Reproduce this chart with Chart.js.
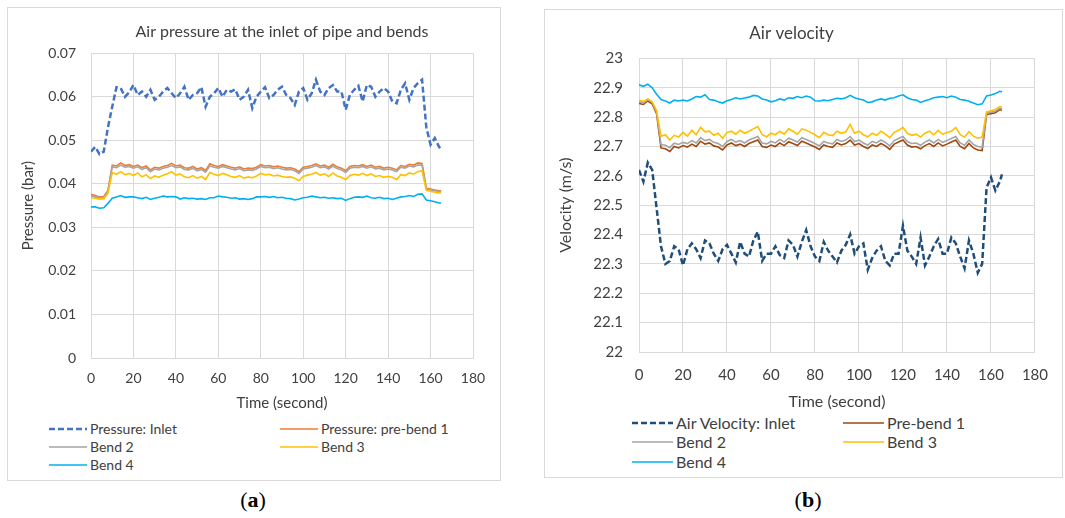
<!DOCTYPE html>
<html>
<head>
<meta charset="utf-8">
<script src="https://cdn.jsdelivr.net/npm/chart.js@4.4.0/dist/chart.umd.min.js"></script>
<style>
body { margin: 0; width: 1065px; height: 518px; background: #fff; position: relative; overflow: hidden; font-family: Lato, sans-serif; color: #404040; }
.panel { position: absolute; border: 1px solid #d9d9d9; box-sizing: border-box; }
.box { position: absolute; }
.leg { position: absolute; white-space: nowrap; }
.swatch { position: absolute; }
.cap { position: absolute; width: 100px; text-align: center; font-family: "Liberation Serif", serif; font-size: 22px; line-height: 24px; top: 488px; color: #000; }
</style>
</head>
<body>
<div class="panel" style="left:7px;top:7px;width:494px;height:474px"></div>
<div class="panel" style="left:544px;top:9px;width:519px;height:469px"></div>
<div class="box" style="left:7px;top:7px;width:493px;height:405px"><canvas id="ChartP"></canvas></div>
<div class="box" style="left:544px;top:9px;width:518px;height:402px"><canvas id="ChartV"></canvas></div>
<div id="legend"></div>
<div class="cap" style="left:203px">(<b>a</b>)</div>
<div class="cap" style="left:758px">(<b>b</b>)</div>
<script>
// ---------------- data ------------------------
const times = [
  0, 2, 4, 6, 8, 10, 12, 14, 16, 18,
  20, 22, 24, 26, 28, 30, 32, 34, 36, 38,
  40, 42, 44, 46, 48, 50, 52, 54, 56, 58,
  60, 62, 64, 66, 68, 70, 72, 74, 76, 78,
  80, 82, 84, 86, 88, 90, 92, 94, 96, 98,
  100, 102, 104, 106, 108, 110, 112, 114, 116, 118,
  120, 122, 124, 126, 128, 130, 132, 134, 136, 138,
  140, 142, 144, 146, 148, 150, 152, 154, 156, 158,
  160, 162, 164, 165
];

// pressure (bar)
const pInlet = [
  .0474, .0485, .0468, .0474, .0530, .0577, .0622, .0620, .0600, .0610,
  .0627, .0604, .0612, .0600, .0616, .0593, .0600, .0612, .0620, .0608,
  .0597, .0608, .0623, .0593, .0604, .0608, .0622, .0577, .0600, .0608,
  .0620, .0600, .0616, .0612, .0617, .0593, .0600, .0616, .0574, .0600,
  .0612, .0622, .0597, .0604, .0616, .0623, .0604, .0597, .0581, .0612,
  .0620, .0593, .0608, .0639, .0612, .0604, .0620, .0627, .0612, .0612,
  .0570, .0604, .0616, .0625, .0589, .0627, .0623, .0600, .0612, .0620,
  .0612, .0589, .0585, .0616, .0631, .0593, .0620, .0631, .0639, .0530,
  .0490, .0505, .0485, .0478
];
const pPreBend1 = [
  .0376, .0373, .0370, .0371, .0385, .0443, .0441, .0448, .0442, .0444,
  .0440, .0443, .0437, .0441, .0432, .0438, .0436, .0440, .0442, .0447,
  .0441, .0443, .0437, .0436, .0440, .0434, .0437, .0431, .0446, .0442,
  .0440, .0444, .0441, .0438, .0436, .0439, .0434, .0436, .0435, .0438,
  .0444, .0441, .0442, .0439, .0441, .0438, .0436, .0437, .0434, .0428,
  .0438, .0440, .0442, .0446, .0441, .0443, .0438, .0445, .0439, .0436,
  .0430, .0440, .0442, .0441, .0444, .0440, .0443, .0438, .0440, .0436,
  .0438, .0436, .0432, .0442, .0440, .0445, .0443, .0448, .0447, .0390,
  .0388, .0386, .0384, .0384
];
const pBend2 = [
  .0373, .0370, .0368, .0369, .0383, .0439, .0437, .0443, .0438, .0440,
  .0436, .0439, .0433, .0437, .0428, .0434, .0432, .0436, .0438, .0442,
  .0437, .0439, .0433, .0432, .0436, .0430, .0433, .0427, .0441, .0438,
  .0436, .0440, .0437, .0434, .0432, .0435, .0430, .0432, .0431, .0434,
  .0440, .0437, .0438, .0435, .0437, .0434, .0432, .0433, .0430, .0424,
  .0434, .0436, .0438, .0442, .0437, .0439, .0434, .0441, .0435, .0432,
  .0426, .0436, .0438, .0437, .0440, .0436, .0439, .0434, .0436, .0432,
  .0434, .0432, .0428, .0438, .0436, .0441, .0439, .0443, .0443, .0388,
  .0386, .0384, .0382, .0382
];
const pBend3 = [
  .0368, .0367, .0365, .0366, .0378, .0426, .0422, .0428, .0421, .0424,
  .0419, .0425, .0416, .0421, .0412, .0418, .0415, .0420, .0423, .0428,
  .0420, .0423, .0416, .0414, .0419, .0413, .0417, .0410, .0426, .0422,
  .0419, .0424, .0421, .0417, .0415, .0419, .0413, .0416, .0414, .0418,
  .0424, .0421, .0422, .0418, .0420, .0417, .0415, .0416, .0413, .0407,
  .0417, .0420, .0422, .0426, .0420, .0423, .0417, .0425, .0418, .0415,
  .0410, .0419, .0422, .0420, .0424, .0419, .0423, .0417, .0419, .0415,
  .0417, .0415, .0410, .0421, .0419, .0425, .0422, .0428, .0430, .0385,
  .0383, .0381, .0379, .0379
];
const pBend4 = [
  .0347, .0347, .0344, .0345, .0355, .0367, .0370, .0373, .0369, .0370,
  .0370, .0368, .0366, .0369, .0364, .0367, .0369, .0372, .0370, .0371,
  .0370, .0365, .0368, .0366, .0367, .0365, .0366, .0364, .0368, .0368,
  .0372, .0370, .0369, .0367, .0368, .0365, .0366, .0364, .0366, .0370,
  .0370, .0371, .0369, .0371, .0368, .0369, .0367, .0366, .0363, .0365,
  .0368, .0369, .0372, .0370, .0368, .0369, .0367, .0368, .0366, .0367,
  .0362, .0366, .0369, .0370, .0369, .0372, .0368, .0367, .0369, .0366,
  .0367, .0364, .0367, .0370, .0371, .0373, .0371, .0376, .0377, .0363,
  .0361, .0359, .0356, .0356
];

// velocity (m/s)
const vInlet = [
  22.620, 22.580, 22.645, 22.620, 22.490, 22.360, 22.300, 22.310, 22.360, 22.350,
  22.295, 22.350, 22.370, 22.350, 22.320, 22.380, 22.370, 22.335, 22.310, 22.350,
  22.365, 22.335, 22.305, 22.375, 22.335, 22.325, 22.380, 22.410, 22.310, 22.335,
  22.335, 22.360, 22.330, 22.320, 22.380, 22.365, 22.325, 22.375, 22.415, 22.360,
  22.325, 22.310, 22.375, 22.345, 22.325, 22.305, 22.345, 22.365, 22.400, 22.335,
  22.360, 22.370, 22.280, 22.320, 22.345, 22.360, 22.310, 22.295, 22.335, 22.335,
  22.430, 22.345, 22.325, 22.300, 22.390, 22.295, 22.325, 22.360, 22.385, 22.335,
  22.335, 22.390, 22.370, 22.325, 22.285, 22.380, 22.335, 22.270, 22.300, 22.560,
  22.595, 22.550, 22.580, 22.605
];
const vPreBend1 = [
  22.847, 22.843, 22.855, 22.845, 22.812, 22.695, 22.692, 22.683, 22.700, 22.695,
  22.703, 22.698, 22.708, 22.700, 22.718, 22.708, 22.712, 22.702, 22.698, 22.688,
  22.705, 22.712, 22.703, 22.708, 22.700, 22.710, 22.716, 22.722, 22.700, 22.697,
  22.705, 22.700, 22.712, 22.703, 22.716, 22.710, 22.703, 22.718, 22.712, 22.705,
  22.698, 22.690, 22.705, 22.700, 22.697, 22.712, 22.705, 22.710, 22.722, 22.705,
  22.710, 22.700, 22.693, 22.705, 22.700, 22.710, 22.702, 22.690, 22.708, 22.715,
  22.722, 22.705, 22.698, 22.700, 22.692, 22.703, 22.710, 22.700, 22.712, 22.702,
  22.708, 22.715, 22.722, 22.700, 22.692, 22.710, 22.695, 22.688, 22.686, 22.808,
  22.812, 22.815, 22.826, 22.823
];
const vBend2 = [
  22.852, 22.848, 22.860, 22.850, 22.818, 22.707, 22.704, 22.696, 22.711, 22.707,
  22.714, 22.710, 22.720, 22.712, 22.730, 22.720, 22.724, 22.714, 22.710, 22.700,
  22.717, 22.724, 22.715, 22.720, 22.712, 22.722, 22.728, 22.734, 22.712, 22.709,
  22.717, 22.712, 22.724, 22.715, 22.728, 22.722, 22.715, 22.730, 22.724, 22.717,
  22.710, 22.702, 22.717, 22.712, 22.709, 22.724, 22.717, 22.722, 22.734, 22.717,
  22.722, 22.712, 22.705, 22.717, 22.712, 22.722, 22.714, 22.702, 22.720, 22.727,
  22.734, 22.717, 22.710, 22.712, 22.704, 22.715, 22.722, 22.712, 22.724, 22.714,
  22.720, 22.727, 22.734, 22.712, 22.704, 22.722, 22.707, 22.700, 22.698, 22.814,
  22.817, 22.820, 22.830, 22.828
];
const vBend3 = [
  22.858, 22.853, 22.862, 22.852, 22.822, 22.735, 22.740, 22.722, 22.738, 22.732,
  22.748, 22.735, 22.755, 22.740, 22.765, 22.750, 22.752, 22.738, 22.745, 22.728,
  22.748, 22.752, 22.742, 22.755, 22.745, 22.752, 22.760, 22.768, 22.740, 22.733,
  22.745, 22.740, 22.752, 22.742, 22.760, 22.752, 22.742, 22.760, 22.755, 22.748,
  22.740, 22.730, 22.748, 22.740, 22.737, 22.752, 22.745, 22.750, 22.775, 22.745,
  22.752, 22.740, 22.733, 22.745, 22.738, 22.752, 22.742, 22.730, 22.748, 22.755,
  22.765, 22.745, 22.738, 22.742, 22.732, 22.745, 22.752, 22.740, 22.755, 22.742,
  22.748, 22.752, 22.765, 22.740, 22.732, 22.750, 22.735, 22.728, 22.732, 22.818,
  22.822, 22.826, 22.836, 22.834
];
const vBend4 = [
  22.910, 22.905, 22.912, 22.900, 22.878, 22.860, 22.855, 22.848, 22.858, 22.855,
  22.858, 22.855, 22.862, 22.870, 22.868, 22.876, 22.860, 22.858, 22.852, 22.848,
  22.856, 22.860, 22.866, 22.862, 22.865, 22.868, 22.874, 22.872, 22.862, 22.858,
  22.852, 22.856, 22.862, 22.858, 22.866, 22.864, 22.870, 22.866, 22.872, 22.868,
  22.856, 22.855, 22.858, 22.856, 22.860, 22.864, 22.862, 22.866, 22.874, 22.866,
  22.862, 22.858, 22.850, 22.852, 22.858, 22.862, 22.858, 22.864, 22.866, 22.872,
  22.876, 22.866, 22.860, 22.858, 22.850, 22.856, 22.860, 22.866, 22.868, 22.870,
  22.866, 22.872, 22.868, 22.860, 22.858, 22.854, 22.848, 22.842, 22.845, 22.872,
  22.875, 22.880, 22.888, 22.886
];

const pNames = ['Pressure: Inlet', 'Pressure: pre-bend 1', 'Bend 2', 'Bend 3', 'Bend 4'];
const vNames = ['Air Velocity: Inlet', 'Pre-bend 1', 'Bend 2', 'Bend 3', 'Bend 4'];
const pColors = ['#4472C4', '#ED7D31', '#A5A5A5', '#FFC000', '#00B0F0'];
const vColors = ['#1F4E79', '#9E480E', '#A5A5A5', '#FFC000', '#00B0F0'];

const pValues = [pInlet, pPreBend1, pBend2, pBend3, pBend4];
const vValues = [vInlet, vPreBend1, vBend2, vBend3, vBend4];

const textColor = '#404040';
const gridColor = '#d9d9d9';
const inletDash = [6, 3];

// ---------------- helpers ------------------------
function makeDatasets(names, colors, values) {
    return names.map((name, i) => ({
        label: name,
        data: values[i].map((v, k) => ({ x: times[k], y: v })),
        borderColor: colors[i],
        backgroundColor: colors[i],
        borderWidth: i === 0 ? 2.5 : 1.6,
        borderDash: i === 0 ? inletDash : [],
        pointRadius: 0,
        tension: 0,
        order: 5 - i
    }));
}

function makeOptions(o) {
    return {
        responsive: true,
        maintainAspectRatio: false,
        animation: false,
        layout: { padding: { left: 0, right: o.padRight, top: 0, bottom: 0 } },
        scales: {
            x: {
                type: 'linear',
                min: 0,
                max: 180,
                ticks: { stepSize: 20, color: textColor, font: { family: 'Lato', size: o.tickSize }, padding: o.xPad },
                grid: { color: gridColor, drawTicks: false },
                border: { color: gridColor },
                title: { display: true, text: 'Time (second)', color: textColor, font: { family: 'Lato', size: o.axisSize }, padding: 0 },
                afterFit: s => { s.height = o.xHeight; }
            },
            y: {
                min: o.yMin,
                max: o.yMax,
                ticks: {
                    stepSize: o.yStep,
                    color: textColor,
                    font: { family: 'Lato', size: o.tickSize },
                    padding: o.yPad,
                    callback: v => String(parseFloat(v.toFixed(o.dec)))
                },
                grid: { color: gridColor, drawTicks: false },
                border: { color: gridColor },
                title: { display: true, text: o.yTitle, color: textColor, font: { family: 'Lato', size: o.axisSize }, padding: { top: 12, bottom: 0 } },
                afterFit: s => { s.width = o.yWidth; }
            }
        },
        plugins: {
            legend: { display: false },
            tooltip: { enabled: false },
            title: {
                display: true,
                text: o.title,
                fullSize: o.fullSize,
                color: textColor,
                font: { family: 'Lato', size: o.titleSize, weight: 'normal' },
                padding: o.titlePad
            }
        }
    };
}

// legend drawn as html, two columns like the excel one
function addLegend(names, colors, cols, rows, lineW, size) {
    const box = document.getElementById('legend');
    names.forEach((name, i) => {
        const x = cols[i % 2];
        const y = rows[Math.floor(i / 2)];
        const dash = i === 0 ? 'stroke-dasharray="' + inletDash.join(' ') + '"' : '';
        const w = i === 0 ? 2.5 : 1.6;
        box.insertAdjacentHTML('beforeend',
            '<svg class="swatch" style="left:' + x + 'px;top:' + (y - 3) + 'px" width="' + lineW + '" height="6">' +
            '<line x1="0" y1="3" x2="' + lineW + '" y2="3" stroke="' + colors[i] + '" stroke-width="' + w + '" ' + dash + '/></svg>' +
            '<div class="leg" style="left:' + (x + lineW + 3) + 'px;top:' + (y - size * 0.6) + 'px;font-size:' + size + 'px;line-height:' + (size * 1.2) + 'px">' + name + '</div>');
    });
}

// ---------------- pressure chart ------------------------
new Chart(document.getElementById('ChartP'), {
    type: 'line',
    data: { datasets: makeDatasets(pNames, pColors, pValues) },
    options: makeOptions({
        title: 'Air pressure at the inlet of pipe and bends',
        fullSize: false,
        titleSize: 16,
        titlePad: { top: 15, bottom: 12 },
        tickSize: 14,
        axisSize: 15,
        padRight: 27,
        xHeight: 54,
        xPad: 12,
        yWidth: 84,
        yPad: 15,
        yMin: 0, yMax: 0.07, yStep: 0.01, dec: 2,
        yTitle: 'Pressure (bar)'
    })
});

// ---------------- velocity chart ------------------------
new Chart(document.getElementById('ChartV'), {
    type: 'line',
    data: { datasets: makeDatasets(vNames, vColors, vValues) },
    options: makeOptions({
        title: 'Air velocity',
        fullSize: true,
        titleSize: 17,
        titlePad: { top: 14, bottom: 15 },
        tickSize: 15,
        axisSize: 16,
        padRight: 23,
        xHeight: 59,
        xPad: 14,
        yWidth: 95,
        yPad: 16,
        yMin: 22, yMax: 23, yStep: 0.1, dec: 1,
        yTitle: 'Velocity (m/s)'
    })
});

addLegend(pNames, pColors, [49, 280], [429, 447, 465], 38, 14);
addLegend(vNames, vColors, [632, 843], [423, 442, 462], 41, 16);
</script>
</body>
</html>
